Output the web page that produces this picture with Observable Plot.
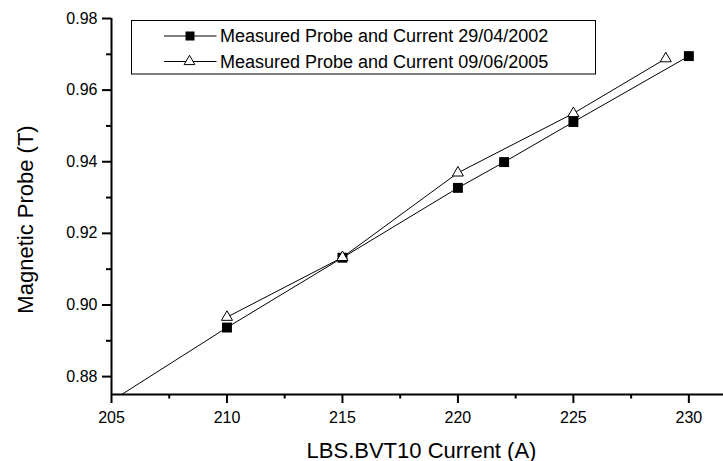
<!DOCTYPE html>
<html>
<head>
<meta charset="utf-8">
<script src="https://cdn.jsdelivr.net/npm/d3@7"></script>
<script src="https://cdn.jsdelivr.net/npm/@observablehq/plot@0.6"></script>
<style>
  html, body { margin: 0; padding: 0; background: white; }
  #chart { position: relative; width: 723px; height: 461px; }
  #chart svg { position: absolute; left: 0; top: 0; }
</style>
</head>
<body>
<div id="chart"></div>
<script>
// Series 1: Measured Probe and Current 29/04/2002 (filled squares)
const current2002 = [205, 210, 215, 220, 222, 225, 230];
const probe2002   = [0.8732, 0.8937, 0.9132, 0.9327, 0.9399, 0.9511, 0.9695];
// Series 2: Measured Probe and Current 09/06/2005 (open triangles)
const current2005 = [210, 215, 220, 225, 229];
const probe2005   = [0.8966, 0.9133, 0.9369, 0.9535, 0.9688];

const seriesNames = ["Measured Probe and Current 29/04/2002", "Measured Probe and Current 09/06/2005"];
const xMajor = [205, 210, 215, 220, 225, 230];
const xMinor = [207.5, 212.5, 217.5, 222.5, 227.5];
const yMajor = [0.88, 0.90, 0.92, 0.94, 0.96, 0.98];
const yMinor = [0.89, 0.91, 0.93, 0.95, 0.97];
const xTitle = "LBS.BVT10 Current (A)";
const yTitle = "Magnetic Probe (T)";

const d2002 = current2002.map((x, i) => ({x, y: probe2002[i]}));
const d2005 = current2005.map((x, i) => ({x, y: probe2005[i]}));

const font = "'Liberation Sans', Arial, Helvetica, sans-serif";
const frame = {
  width: 723, height: 461,
  marginLeft: 111, marginRight: 0, marginTop: 18, marginBottom: 67,
  x: {domain: [205, 231.5], axis: null},
  y: {domain: [0.875, 0.98], axis: null}
};

// Layer 1: data (clipped to the frame), axis lines, legend
const dataLayer = Plot.plot({
  ...frame,
  style: {fontFamily: font, color: "black", background: "white"},
  marks: [
    Plot.line(d2002, {x: "x", y: "y", stroke: "black", strokeWidth: 1, clip: true}),
    Plot.line(d2005, {x: "x", y: "y", stroke: "black", strokeWidth: 1, clip: true}),
    Plot.dot(d2002, {x: "x", y: "y", symbol: "square", r: 5.6, fill: "black", stroke: "none", clip: true}),
    Plot.dot(d2005, {x: "x", y: "y", symbol: "triangle", r: 4.1, fill: "white", stroke: "black", strokeWidth: 1, clip: true}),
    Plot.ruleX([205], {strokeWidth: 2}),
    Plot.ruleY([0.875], {strokeWidth: 2})
  ]
});

const lg = d3.select(dataLayer).append("g").attr("font-family", font).attr("font-size", 18)
  .attr("fill", "black").attr("text-anchor", "start");
lg.append("rect").attr("x", 131.5).attr("y", 20.5).attr("width", 464).attr("height", 53.5)
  .attr("fill", "white").attr("stroke", "black").attr("stroke-width", 1);
const rows = [36, 61.5];
seriesNames.forEach((name, i) => {
  const cy = rows[i];
  lg.append("line").attr("x1", 164).attr("x2", 216.5).attr("y1", cy).attr("y2", cy)
    .attr("stroke", "black").attr("stroke-width", 1);
  if (i === 0) {
    lg.append("rect").attr("x", 185.5).attr("y", cy - 4.5).attr("width", 9).attr("height", 9).attr("fill", "black");
  } else {
    lg.append("path").attr("d", d3.symbol(d3.symbolTriangle, 50)()).attr("transform", `translate(189.5,${cy})`)
      .attr("fill", "white").attr("stroke", "black").attr("stroke-width", 1);
  }
  lg.append("text").attr("x", 220).attr("y", cy + 6).attr("text-anchor", "start").text(name);
});

// Layer 2: ticks, tick labels, axis titles (same scales)
const axisLayer = Plot.plot({
  ...frame,
  style: {fontFamily: font, fontSize: "16px", color: "black", background: "transparent", overflow: "visible"},
  marks: [
    Plot.axisX({ticks: xMajor, tickSize: 9, tickPadding: 8.5, strokeWidth: 2, fontSize: 16, label: null, tickFormat: d3.format("d")}),
    Plot.axisX({ticks: xMinor, tickSize: 4.5, strokeWidth: 2, text: null, label: null}),
    Plot.axisY({ticks: yMajor, tickSize: 9, tickPadding: 5, strokeWidth: 2, fontSize: 16, label: null, tickFormat: d3.format(".2f")}),
    Plot.axisY({ticks: yMinor, tickSize: 5, strokeWidth: 2, text: null, label: null}),
    Plot.text([xTitle], {frameAnchor: "bottom", lineAnchor: "bottom", textAnchor: "middle", dx: 4, dy: 63, fontSize: 22}),
    Plot.text([yTitle], {frameAnchor: "left", lineAnchor: "bottom", textAnchor: "middle", rotate: -90, dx: -79, dy: 13, fontSize: 22})
  ]
});

const host = document.getElementById("chart");
host.appendChild(dataLayer);
host.appendChild(axisLayer);
</script>
</body>
</html>
